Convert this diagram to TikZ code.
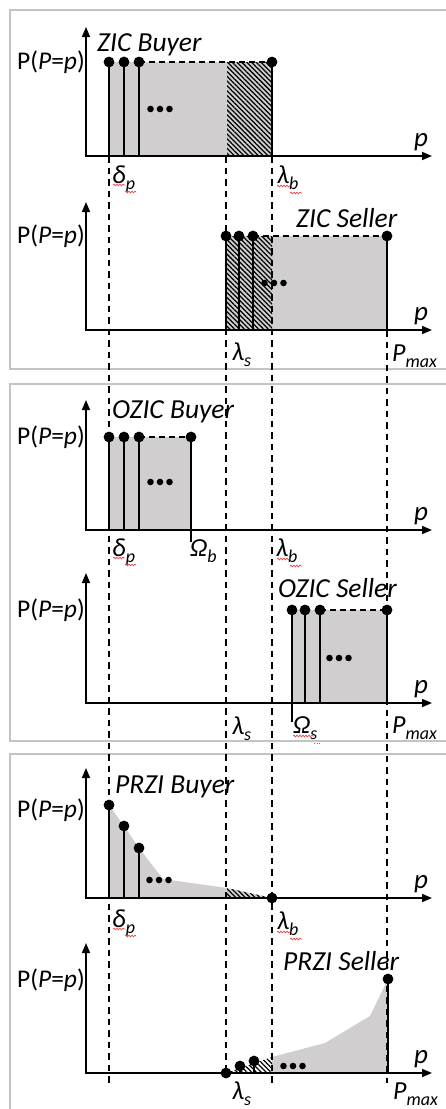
\documentclass[tikz,border=0pt]{standalone}
\usepackage{fontspec}
\setmainfont{Carlito}
\usetikzlibrary{arrows.meta,patterns.meta,decorations.pathmorphing}
\definecolor{grayfill}{RGB}{208,206,206}
\definecolor{framegray}{RGB}{196,196,196}
\definecolor{squigred}{RGB}{235,70,70}
\newcommand{\withsub}[2]{\textit{#1}\raisebox{-6pt}{\fontsize{18}{18}\selectfont\textit{#2}}}
\newcommand{\pdot}[2]{\fill (#1,#2) circle (5.4);}
\newcommand{\ellip}[2]{\fill (#1-9.5,#2) circle (3.3) (#1,#2) circle (3.3) (#1+9.5,#2) circle (3.3);}
\tikzset{
  axisline/.style={line width=1.6pt, {Triangle[length=10pt,width=8pt]}-{Triangle[length=10pt,width=8pt]}},
  stemline/.style={line width=1.4pt},
  guideline/.style={line width=1.4pt, dash pattern=on 6.5pt off 5pt},
  levelline/.style={line width=1.3pt, dash pattern=on 6pt off 4pt},
  panelframe/.style={draw=framegray, line width=1.6pt},
  hatchfill/.style={pattern={Lines[angle=-45,distance=3.4pt,line width=1.25pt]}},
  shaded/.style={fill=grayfill},
  ylab/.style={anchor=base east, inner sep=0pt, font=\fontsize{25.5}{28}\selectfont},
  xlab/.style={anchor=base west, inner sep=0pt, font=\fontsize{27}{28}\selectfont\itshape},
  ticklab/.style={anchor=base west, inner sep=0pt, font=\fontsize{26}{28}\selectfont},
  titlelab/.style={anchor=base west, inner sep=0pt, font=\fontsize{27.5}{30}\selectfont\itshape},
  squiggle/.style={draw=squigred, line width=0.7pt, decorate, decoration={snake, amplitude=0.9pt, segment length=3pt}},
}
\begin{document}
\begin{tikzpicture}[x=1pt,y=-1pt]
\useasboundingbox (0,0) rectangle (446,1109);
% panel frames
\draw[panelframe] (470,10) -- (10,10) -- (10,369) -- (470,369);
\draw[panelframe] (470,384) -- (10,384) -- (10,741) -- (470,741);
\draw[panelframe] (470,754) -- (10,754) -- (10,1130);

% ---------- fills ----------
% ZIC buyer
\fill[shaded] (109,62) rectangle (272,156);
\path[hatchfill] (227,62) rectangle (272,156);
% ZIC seller
\fill[shaded] (226,236) rectangle (387,330);
\path[hatchfill] (226,236) rectangle (272,330);
% OZIC buyer
\fill[shaded] (109,437) rectangle (191,530);
% OZIC seller
\fill[shaded] (292,610) rectangle (387,703);
% PRZI buyer
\fill[shaded] (109,898) -- (109,805) -- (124,826) -- (139,848) -- (163,879) -- (227,888) -- (272,898) -- cycle;
\path[hatchfill] (227,888) -- (272,898) -- (227,898) -- cycle;
% PRZI seller
\fill[shaded] (272,1073) -- (272,1057) -- (325,1043) -- (370,1016) -- (388,979) -- (388,1073) -- cycle;
\path[hatchfill] (226,1073) -- (272,1057) -- (272,1073) -- cycle;

% ---------- guide lines ----------
\draw[guideline] (109,156) -- (109,1083);
\draw[guideline] (226,156) -- (226,1073);
\draw[guideline] (272,156) -- (272,1083);
\draw[guideline] (387,330) -- (387,1083);

% ---------- axes ----------
\foreach \A/\T in {156/27, 330/202, 530/400, 703/573, 898/768, 1073/943}{
  \draw[axisline] (86,\T) -- (86,\A) -- (432,\A);
  \node[xlab] at (414,\A-10) {p};
}

% ---------- ZIC buyer ----------
\foreach \x in {109,124,139,272}{\draw[stemline] (\x,62) -- (\x,156); \pdot{\x}{62}}
\draw[levelline] (139,62) -- (272,62);
\ellip{160}{109}
\node[ylab] (yl1) at (85,69) {P(\textit{P}=\textit{p})};
\node[titlelab] (t1) at (97,51) {ZIC Buyer};
\node[ticklab] (d1) at (112,183) {\withsub{δ}{p}};
\node[ticklab] (b1) at (277,183) {\withsub{λ}{b}};

% ---------- ZIC seller ----------
\foreach \x in {226,239,253,387}{\draw[stemline] (\x,236) -- (\x,330); \pdot{\x}{236}}
\draw[levelline] (253,236) -- (387,236);
\ellip{274}{283}
\node[ylab] (yl2) at (85,243) {P(\textit{P}=\textit{p})};
\node[titlelab] (t2) at (296,227) {ZIC Seller};
\node[ticklab] (s2) at (232,360) {\withsub{λ}{s}};
\node[ticklab] (m2) at (392,361) {\withsub{P}{max}};

% ---------- OZIC buyer ----------
\foreach \x in {109,124,139,191}{\draw[stemline] (\x,437) -- (\x,530); \pdot{\x}{437}}
\draw[stemline] (191,530) -- (191,542);
\draw[levelline] (139,437) -- (191,437);
\ellip{160}{482}
\node[ylab] (yl3) at (85,444) {P(\textit{P}=\textit{p})};
\node[titlelab] (t3) at (112,418) {OZIC Buyer};
\node[ticklab] (d3) at (112,556) {\withsub{δ}{p}};
\node[ticklab] (o3) at (190,556) {\withsub{Ω}{b}};
\node[ticklab] (b3) at (276,556) {\withsub{λ}{b}};

% ---------- OZIC seller ----------
\foreach \x in {292,305,320,387}{\draw[stemline] (\x,610) -- (\x,703); \pdot{\x}{610}}
\draw[stemline] (292,703) -- (292,722);
\draw[levelline] (320,610) -- (387,610);
\ellip{339}{658}
\node[ylab] (yl4) at (85,617) {P(\textit{P}=\textit{p})};
\node[titlelab] (t4) at (278,597) {OZIC Seller};
\node[ticklab] (s4) at (232,734) {\withsub{λ}{s}};
\node[ticklab] (o4) at (293,733) {\withsub{Ω}{s}};
\node[ticklab] (m4) at (392,733) {\withsub{P}{max}};

% ---------- PRZI buyer ----------
\foreach \x/\y in {109/805,124/826,139/848}{\draw[stemline] (\x,\y) -- (\x,898); \pdot{\x}{\y}}
\pdot{272}{898}
\draw[stemline] (272,898) -- (272,906);
\ellip{159}{880}
\node[ylab] (yl5) at (85,817) {P(\textit{P}=\textit{p})};
\node[titlelab] (t5) at (115,793) {PRZI Buyer};
\node[ticklab] (d5) at (112,927) {\withsub{δ}{p}};
\node[ticklab] (b5) at (277,929) {\withsub{λ}{b}};

% ---------- PRZI seller ----------
\foreach \x/\y in {226/1073,240/1066,254/1061}{\draw[stemline] (\x,\y) -- (\x,1073); \pdot{\x}{\y}}
\draw[stemline] (388,979) -- (388,1073);
\pdot{388}{979}
\ellip{293}{1066}
\node[ylab] (yl6) at (85,987) {P(\textit{P}=\textit{p})};
\node[titlelab] (t6) at (283,970) {PRZI Seller};
\node[ticklab] (s6) at (232,1099) {\withsub{λ}{s}};
\node[ticklab] (m6) at (393,1099) {\withsub{P}{max}};

% ---------- spell-check squiggles ----------
\foreach \y in {0,373,744}{
  \draw[squiggle] (113,185+\y) -- (125,185+\y);
  \draw[squiggle] (125,192+\y) -- (136,192+\y);
}
\foreach \y in {0,373,746}{
  \draw[squiggle] (277,186+\y) -- (290,186+\y);
  \draw[squiggle] (290,193+\y) -- (302,193+\y);
}
\draw[squiggle] (293,736) -- (314,736);
\draw[squigred, line width=0.7pt, dotted] (314,743) -- (320,743);
\end{tikzpicture}
\end{document}
